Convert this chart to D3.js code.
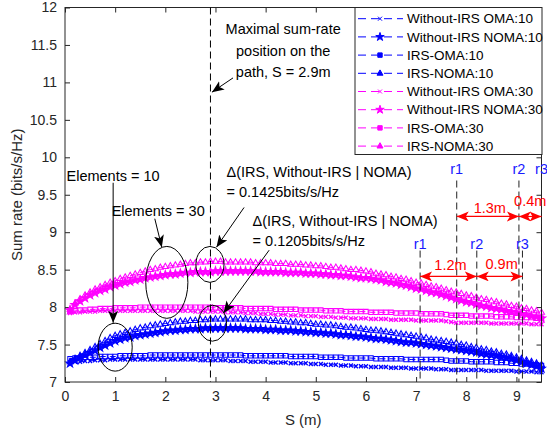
<!DOCTYPE html>
<html><head><meta charset="utf-8">
<script src="https://cdn.jsdelivr.net/npm/d3@7"></script>
<style>body{margin:0;background:#fff} text{font-family:"Liberation Sans",Arial,Helvetica,sans-serif}</style>
</head><body><svg id="c" width="547" height="434"></svg>
<script>
// ---------------- DATA ----------------
const S = d3.range(1, 96).map(i => i / 10); // path position S (m), 0.1 .. 9.5

const woOma10 = [7.26,7.27,7.27,7.28,7.28,7.29,7.29,7.29,7.30,7.30,
7.30,7.30,7.30,7.30,7.30,7.30,7.30,7.30,7.30,7.30,
7.30,7.30,7.30,7.30,7.30,7.30,7.29,7.29,7.29,7.29,
7.29,7.29,7.28,7.28,7.28,7.28,7.27,7.27,7.27,7.27,
7.26,7.26,7.26,7.26,7.25,7.25,7.25,7.25,7.24,7.24,
7.24,7.23,7.23,7.23,7.22,7.22,7.22,7.21,7.21,7.21,
7.20,7.20,7.20,7.20,7.19,7.19,7.19,7.19,7.18,7.18,
7.18,7.18,7.18,7.17,7.17,7.17,7.16,7.16,7.16,7.16,
7.16,7.16,7.16,7.15,7.15,7.15,7.15,7.15,7.15,7.14,
7.14,7.14,7.14,7.13,7.13];
const woNoma10 = [7.25,7.29,7.33,7.36,7.39,7.42,7.46,7.49,7.52,7.55,
7.57,7.59,7.60,7.62,7.63,7.64,7.65,7.66,7.67,7.68,
7.69,7.69,7.70,7.70,7.71,7.71,7.71,7.72,7.72,7.72,
7.72,7.72,7.72,7.72,7.72,7.71,7.71,7.71,7.71,7.70,
7.70,7.70,7.69,7.69,7.69,7.68,7.68,7.67,7.67,7.66,
7.66,7.65,7.65,7.64,7.63,7.63,7.62,7.61,7.61,7.60,
7.59,7.58,7.58,7.57,7.56,7.55,7.54,7.53,7.53,7.52,
7.51,7.50,7.49,7.48,7.47,7.46,7.45,7.44,7.43,7.42,
7.41,7.40,7.38,7.37,7.36,7.35,7.33,7.32,7.31,7.29,
7.27,7.25,7.23,7.21,7.18];
const irsOma10 = [7.31,7.32,7.32,7.33,7.33,7.33,7.34,7.34,7.34,7.34,
7.35,7.35,7.35,7.35,7.35,7.35,7.36,7.36,7.36,7.36,
7.36,7.36,7.36,7.36,7.36,7.36,7.36,7.36,7.36,7.36,
7.36,7.36,7.36,7.36,7.36,7.35,7.35,7.35,7.35,7.35,
7.35,7.35,7.35,7.35,7.34,7.34,7.34,7.34,7.34,7.34,
7.33,7.33,7.33,7.33,7.33,7.32,7.32,7.32,7.32,7.32,
7.32,7.31,7.31,7.31,7.31,7.31,7.31,7.30,7.30,7.30,
7.30,7.30,7.30,7.30,7.30,7.29,7.28,7.28,7.28,7.28,
7.27,7.27,7.27,7.27,7.27,7.26,7.26,7.26,7.25,7.25,
7.24,7.24,7.23,7.23,7.22];
const irsNoma10 = [7.27,7.31,7.35,7.39,7.43,7.47,7.51,7.55,7.59,7.62,
7.64,7.66,7.68,7.70,7.72,7.73,7.75,7.76,7.77,7.78,
7.79,7.80,7.81,7.81,7.82,7.82,7.83,7.83,7.84,7.84,
7.84,7.84,7.84,7.84,7.84,7.84,7.83,7.83,7.83,7.83,
7.82,7.82,7.81,7.81,7.80,7.80,7.79,7.79,7.78,7.77,
7.77,7.76,7.76,7.75,7.74,7.73,7.73,7.72,7.71,7.70,
7.69,7.69,7.68,7.67,7.66,7.65,7.64,7.63,7.62,7.61,
7.60,7.59,7.57,7.56,7.55,7.54,7.53,7.52,7.50,7.49,
7.47,7.46,7.44,7.43,7.41,7.40,7.38,7.37,7.35,7.33,
7.31,7.29,7.27,7.25,7.23];
const woOma30 = [7.92,7.93,7.93,7.94,7.94,7.94,7.95,7.95,7.95,7.95,
7.95,7.95,7.95,7.95,7.95,7.95,7.95,7.95,7.95,7.95,
7.95,7.95,7.95,7.95,7.95,7.94,7.94,7.94,7.94,7.94,
7.94,7.93,7.93,7.93,7.93,7.92,7.92,7.92,7.91,7.91,
7.91,7.90,7.90,7.90,7.89,7.89,7.89,7.88,7.88,7.88,
7.87,7.87,7.87,7.86,7.86,7.86,7.85,7.85,7.85,7.85,
7.84,7.84,7.84,7.84,7.83,7.83,7.83,7.83,7.83,7.82,
7.82,7.82,7.82,7.82,7.82,7.81,7.80,7.79,7.79,7.79,
7.79,7.79,7.79,7.79,7.78,7.78,7.78,7.78,7.78,7.78,
7.78,7.78,7.77,7.77,7.77];
const woNoma30 = [7.96,8.03,8.08,8.12,8.16,8.19,8.22,8.24,8.27,8.29,
8.31,8.33,8.34,8.36,8.37,8.39,8.40,8.41,8.42,8.43,
8.44,8.44,8.45,8.46,8.46,8.47,8.47,8.47,8.47,8.48,
8.48,8.48,8.48,8.48,8.48,8.48,8.48,8.48,8.47,8.47,
8.47,8.47,8.47,8.46,8.46,8.46,8.46,8.45,8.45,8.45,
8.44,8.44,8.43,8.43,8.42,8.42,8.41,8.40,8.39,8.39,
8.38,8.37,8.36,8.34,8.33,8.32,8.30,8.29,8.27,8.25,
8.24,8.22,8.20,8.19,8.17,8.15,8.13,8.11,8.09,8.07,
8.06,8.04,8.02,8.01,7.99,7.98,7.97,7.95,7.94,7.93,
7.91,7.90,7.88,7.87,7.85];
const irsOma30 = [7.94,7.95,7.96,7.96,7.97,7.97,7.98,7.98,7.98,7.99,
7.99,7.99,7.99,7.99,8.00,8.00,8.00,8.00,8.00,8.00,
8.00,8.00,8.00,8.00,8.00,8.00,8.00,8.00,8.00,7.99,
7.99,7.99,7.99,7.99,7.99,7.98,7.98,7.98,7.98,7.98,
7.98,7.97,7.97,7.97,7.97,7.97,7.96,7.96,7.96,7.96,
7.96,7.95,7.95,7.95,7.95,7.94,7.94,7.94,7.94,7.94,
7.93,7.93,7.93,7.93,7.93,7.92,7.92,7.92,7.92,7.92,
7.91,7.91,7.91,7.91,7.91,7.90,7.89,7.89,7.89,7.89,
7.88,7.88,7.88,7.88,7.88,7.87,7.87,7.87,7.87,7.86,
7.86,7.86,7.86,7.85,7.85];
const irsNoma30 = [7.97,8.05,8.11,8.16,8.20,8.24,8.27,8.30,8.33,8.35,
8.38,8.40,8.42,8.44,8.46,8.48,8.50,8.51,8.53,8.54,
8.55,8.56,8.57,8.58,8.59,8.59,8.60,8.60,8.61,8.61,
8.61,8.60,8.60,8.60,8.60,8.60,8.60,8.59,8.59,8.59,
8.59,8.58,8.58,8.58,8.57,8.57,8.57,8.56,8.56,8.55,
8.55,8.54,8.53,8.53,8.52,8.51,8.50,8.50,8.49,8.48,
8.47,8.45,8.44,8.43,8.41,8.40,8.38,8.37,8.35,8.33,
8.32,8.30,8.28,8.27,8.25,8.23,8.21,8.20,8.18,8.16,
8.15,8.13,8.11,8.10,8.08,8.07,8.05,8.04,8.02,8.01,
7.99,7.98,7.96,7.95,7.93];

const seriesNames = ["Without-IRS OMA:10","Without-IRS NOMA:10","IRS-OMA:10","IRS-NOMA:10",
                     "Without-IRS OMA:30","Without-IRS NOMA:30","IRS-OMA:30","IRS-NOMA:30"];
const seriesValues = [woOma10, woNoma10, irsOma10, irsNoma10, woOma30, woNoma30, irsOma30, irsNoma30];
const seriesColors = ["#0000ff","#0000ff","#0000ff","#0000ff","#ff00ff","#ff00ff","#ff00ff","#ff00ff"];
const seriesMarkers = ["x","star","square","triangle","x","star","square","triangle"];

const xTicks = [0,1,2,3,4,5,6,7,8,9];
const yTicks = [7,7.5,8,8.5,9,9.5,10,10.5,11,11.5,12];
const yTickLabels = ["7","7.5","8","8.5","9","9.5","10","10.5","11","11.5","12"];

// annotations (data coordinates)
const maxLineS = 2.9;
const maxText = ["Maximal sum-rate","position on the","path, S = 2.9m"];
const upperR = [7.81, 9.05, 9.5];   // r1, r2, r3 (upper group)
const upperGaps = ["1.3m","0.4m"];
const lowerR = [7.08, 8.21, 9.12];  // r1, r2, r3 (lower group)
const lowerGaps = ["1.2m","0.9m"];

// ---------------- CHART ----------------
const svg = d3.select("#c");
const x = d3.scaleLinear().domain([0, 9.5]).range([65, 541.5]);
const y = d3.scaleLinear().domain([7, 12]).range([382, 7.5]);
const axisColor = "#262626";

// arrow markers
const defs = svg.append("defs");
function arrowDef(id, color) {
  defs.append("marker").attr("id", id).attr("markerUnits", "userSpaceOnUse")
    .attr("markerWidth", 14).attr("markerHeight", 12).attr("refX", 12).attr("refY", 5)
    .attr("orient", "auto-start-reverse")
    .append("path").attr("d", "M0,0L12,5L0,10L3,5Z").attr("fill", color);
}
arrowDef("ab", "#000");
arrowDef("ar", "#ff0000");

svg.append("rect").attr("x", x(0)).attr("y", y(12)).attr("width", x(9.5) - x(0)).attr("height", y(7) - y(12))
  .attr("fill", "#fff");

// axes with inward ticks
const gx = svg.append("g").attr("transform", `translate(0,${y(7)})`)
  .call(d3.axisBottom(x).tickValues(xTicks).tickSize(-5).tickPadding(9).tickFormat(d3.format("d")));
const gxt = svg.append("g").attr("transform", `translate(0,${y(12)})`)
  .call(d3.axisTop(x).tickValues(xTicks).tickSize(-5).tickFormat(""));
const gy = svg.append("g").attr("transform", `translate(${x(0)},0)`)
  .call(d3.axisLeft(y).tickValues(yTicks).tickSize(-5).tickPadding(8).tickFormat((d, i) => yTickLabels[i]));
const gyr = svg.append("g").attr("transform", `translate(${x(9.5)},0)`)
  .call(d3.axisRight(y).tickValues(yTicks).tickSize(-5).tickFormat(""));
[gx, gxt, gy, gyr].forEach(g => {
  g.select(".domain").remove();
  g.selectAll(".tick line").attr("stroke", axisColor);
  g.selectAll("text").attr("fill", axisColor).style("font-size", "14px")
    .style("font-family", "'Liberation Sans',Arial,sans-serif");
});

// series
const markerPath = {
  x: "M-2,-2L2,2M-2,2L2,-2",
  square: "M-2.2,-2.2H2.2V2.2H-2.2Z",
  triangle: "M0,-3.4L3,1.9L-3,1.9Z",
  star: d3.symbol(d3.symbolStar, 22)()
};
const line = d3.line().x(d => x(d[0])).y(d => y(d[1]));
const plotG = svg.append("g");
seriesValues.forEach((vals, k) => {
  const pts = S.map((s, i) => [s, vals[i]]);
  const g = plotG.append("g");
  g.append("path").attr("d", line(pts)).attr("fill", "none").attr("stroke", seriesColors[k])
    .attr("stroke-width", 1).attr("stroke-dasharray", "6,4");
  const m = seriesMarkers[k];
  g.selectAll("path.m").data(pts).join("path").attr("class", "m")
    .attr("transform", d => `translate(${x(d[0])},${y(d[1])})`)
    .attr("d", markerPath[m])
    .attr("fill", m === "star" ? seriesColors[k] : "none")
    .attr("stroke", seriesColors[k]).attr("stroke-width", m === "x" ? 1.3 : 1.05);
});

// frame
svg.append("rect").attr("x", x(0)).attr("y", y(12)).attr("width", x(9.5) - x(0)).attr("height", y(7) - y(12))
  .attr("fill", "none").attr("stroke", axisColor).attr("stroke-width", 1);

// axis labels
svg.append("text").attr("x", (x(0) + x(9.5)) / 2).attr("y", 425).attr("text-anchor", "middle")
  .attr("fill", axisColor).style("font-size", "15px").text("S (m)");
svg.append("text").attr("transform", `translate(22,${(y(7) + y(12)) / 2}) rotate(-90)`).attr("text-anchor", "middle")
  .attr("fill", axisColor).style("font-size", "15px").text("Sum rate (bits/s/Hz)");

// ---------------- ANNOTATIONS ----------------
const ann = svg.append("g");
const fs = "14.5px";
// vertical max line
ann.append("line").attr("x1", x(maxLineS)).attr("x2", x(maxLineS)).attr("y1", y(12)).attr("y2", y(7))
  .attr("stroke", "#000").attr("stroke-dasharray", "7,4");
maxText.forEach((t, i) => ann.append("text").attr("x", x(4.35)).attr("y", y(11.71 - i * 0.285)).attr("dy", "0.35em")
  .attr("text-anchor", "middle").style("font-size", fs).text(t));
ann.append("line").attr("x1", x(3.35)).attr("y1", y(11.06)).attr("x2", x(2.93)).attr("y2", y(10.87))
  .attr("stroke", "#000").attr("marker-end", "url(#ab)");

// Elements = 10
ann.append("text").attr("x", x(0.03)).attr("y", y(9.75)).attr("dy", "0.35em").style("font-size", fs).text("Elements = 10");
ann.append("line").attr("x1", x(0.96)).attr("y1", y(9.66)).attr("x2", x(0.96)).attr("y2", y(7.79))
  .attr("stroke", "#000").attr("marker-end", "url(#ab)");
ann.append("ellipse").attr("cx", x(1.0)).attr("cy", y(7.465)).attr("rx", x(0.34) - x(0)).attr("ry", y(7) - y(7.32))
  .attr("fill", "none").attr("stroke", "#000");
// Elements = 30
ann.append("text").attr("x", x(0.93)).attr("y", y(9.29)).attr("dy", "0.35em").style("font-size", fs).text("Elements = 30");
ann.append("line").attr("x1", x(1.79)).attr("y1", y(9.18)).attr("x2", x(1.93)).attr("y2", y(8.8))
  .attr("stroke", "#000").attr("marker-end", "url(#ab)");
ann.append("ellipse").attr("cx", x(2.03)).attr("cy", y(8.33)).attr("rx", x(0.42) - x(0)).attr("ry", y(7) - y(7.48))
  .attr("fill", "none").attr("stroke", "#000");
// small ellipses at S = 2.9
ann.append("ellipse").attr("cx", x(2.89)).attr("cy", y(8.57)).attr("rx", x(0.28) - x(0)).attr("ry", y(7) - y(7.24))
  .attr("fill", "none").attr("stroke", "#000");
ann.append("ellipse").attr("cx", x(2.94)).attr("cy", y(7.785)).attr("rx", x(0.28) - x(0)).attr("ry", y(7) - y(7.24))
  .attr("fill", "none").attr("stroke", "#000");
// delta texts
[["Δ(IRS, Without-IRS | NOMA)", "= 0.1425bits/s/Hz", 3.22, 9.80, [3.57, 9.33, 3.02, 8.80]],
 ["Δ(IRS, Without-IRS | NOMA)", "= 0.1205bits/s/Hz", 3.74, 9.15, [4.07, 8.76, 3.16, 7.92]]].forEach(a => {
  ann.append("text").attr("x", x(a[2])).attr("y", y(a[3])).attr("dy", "0.35em").style("font-size", fs).text(a[0]);
  ann.append("text").attr("x", x(a[2])).attr("y", y(a[3] - 0.265)).attr("dy", "0.35em").style("font-size", fs).text(a[1]);
  ann.append("line").attr("x1", x(a[4][0])).attr("y1", y(a[4][1])).attr("x2", x(a[4][2])).attr("y2", y(a[4][3]))
    .attr("stroke", "#000").attr("marker-end", "url(#ab)");
});

// r groups
function rGroup(rs, gaps, labelY, lineTop, arrowY, gapLabelYs) {
  rs.forEach((r, i) => {
    ann.append("line").attr("x1", x(r)).attr("x2", x(r)).attr("y1", y(lineTop)).attr("y2", y(7))
      .attr("stroke", "#222").attr("stroke-dasharray", "7,4");
    ann.append("text").attr("x", x(r)).attr("y", y(labelY)).attr("dy", "0.35em").attr("text-anchor", "middle")
      .attr("fill", "#1a1aff").style("font-size", fs).text("r" + (i + 1));
  });
  gaps.forEach((g, i) => {
    ann.append("line").attr("x1", x(rs[i])).attr("x2", x(rs[i + 1])).attr("y1", y(arrowY)).attr("y2", y(arrowY))
      .attr("stroke", "#ff0000").attr("stroke-width", 1.2)
      .attr("marker-start", "url(#ar)").attr("marker-end", "url(#ar)");
    ann.append("text").attr("x", (x(rs[i]) + x(rs[i + 1])) / 2 + (i === 1 && rs[2] >= 9.5 ? 0 : 2)).attr("y", y(gapLabelYs[i]))
      .attr("dy", "0.35em").attr("text-anchor", "middle").attr("fill", "#ff0000").style("font-size", fs).text(g);
  });
}
rGroup(upperR, upperGaps, 9.84, 9.69, 9.21, [9.33, 9.42]);
rGroup(lowerR, lowerGaps, 8.84, 8.755, 8.41, [8.56, 8.58]);

// ---------------- LEGEND ----------------
const lg = svg.append("g");
lg.append("rect").attr("x", 355).attr("y", 7.5).attr("width", 187).attr("height", 147)
  .attr("fill", "#fff").attr("stroke", axisColor).attr("stroke-width", 1);
seriesNames.forEach((n, k) => {
  const yy = 18.7 + k * 18.2;
  lg.append("line").attr("x1", 358).attr("x2", 403).attr("y1", yy).attr("y2", yy)
    .attr("stroke", seriesColors[k]).attr("stroke-width", 1).attr("stroke-dasharray", "8,5");
  const m = seriesMarkers[k];
  lg.append("path").attr("transform", `translate(380,${yy})`).attr("d", markerPath[m])
    .attr("fill", m === "x" ? "none" : seriesColors[k]).attr("stroke", seriesColors[k]).attr("stroke-width", 1);
  lg.append("text").attr("x", 407).attr("y", yy).attr("dy", "0.35em").attr("fill", "#000")
    .style("font-size", "13.5px").text(n);
});
</script></body></html>
